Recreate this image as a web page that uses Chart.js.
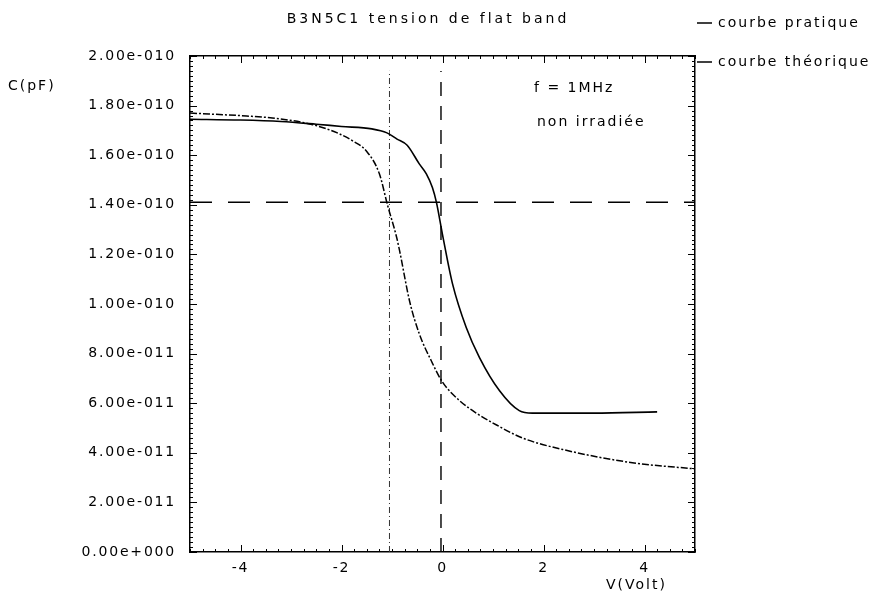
<!DOCTYPE html>
<html>
<head>
<meta charset="utf-8">
<script src="https://cdn.jsdelivr.net/npm/chart.js@4.4.0/dist/chart.umd.min.js"></script>
<style>
    html, body { margin: 0; padding: 0; background: #fff; }
    #wrap { width: 880px; height: 593px; }
</style>
</head>
<body>
<div id="wrap"><canvas id="cv" width="880" height="593"></canvas></div>
<script>
// Tension (V) et capacité (F)
const vPratique = [-5, -4, -3.2, -2.5, -2, -1.4, -1.1, -0.9, -0.7, -0.46, -0.32, -0.2, -0.12, 0, 0.2, 0.47, 0.73, 1.13, 1.52, 1.78, 3, 4.25];
const cPratique = [174.5e-12, 174.2e-12, 173.6e-12, 172.5e-12, 171.6e-12, 170.6e-12, 169e-12, 166.5e-12, 164e-12, 156.5e-12, 152.5e-12, 147e-12, 141e-12, 128e-12, 108e-12, 90.5e-12, 78.5e-12, 65e-12, 57e-12, 56e-12, 56e-12, 56.5e-12];

const vTheorique = [-5, -3.88, -3.37, -2.57, -2.04, -1.78, -1.5, -1.25, -1.09, -0.91, -0.85, -0.65, -0.46, -0.22, 0, 0.34, 0.67, 1.0, 1.58, 2.45, 3.76, 5];
const cTheorique = [177e-12, 175.8e-12, 175e-12, 172.3e-12, 168.6e-12, 165.8e-12, 161.5e-12, 152.5e-12, 140e-12, 127e-12, 121.5e-12, 101e-12, 88e-12, 77e-12, 68.5e-12, 61e-12, 56e-12, 52e-12, 46e-12, 41e-12, 36e-12, 33.5e-12];

// repères de tension de bandes plates
const flatBandC = 1.41e-10;
const vFlatTheo = -1.05;
const vFlatPrat = -0.03;
const vLineTop = 1.94e-10;

const xTickValues = [-4, -2, 0, 2, 4];
const yTickValues = [0, 2e-11, 4e-11, 6e-11, 8e-11, 1e-10, 1.2e-10, 1.4e-10, 1.6e-10, 1.8e-10, 2e-10];
const xRange = [-5, 5];
const yRange = [0, 2e-10];

const seriesLabels = ['courbe pratique', 'courbe théorique'];
const titleText = 'B3N5C1 tension de flat band';

const FONT = '"DejaVu Sans", sans-serif';
const INK = '#000';

// 1.40e-10 -> "1.40e-010"
function fmtExp(v) {
    const parts = v.toExponential(2).split('e');
    const n = parseInt(parts[1], 10);
    return parts[0] + 'e' + (n < 0 ? '-' : '+') + String(Math.abs(n)).padStart(3, '0');
}

function toPoints(xs, ys) {
    return xs.map((x, i) => ({ x: x, y: ys[i] }));
}

// Spacing like the old plotter font
const spacing = {
    id: 'spacing',
    beforeDraw(chart) {
        chart.ctx.letterSpacing = '1.8px';
    }
};

// Inward ticks on the four sides of the frame
const innerTicks = {
    id: 'innerTicks',
    afterDraw(chart) {
        const { ctx, chartArea: a, scales } = chart;
        ctx.save();
        ctx.strokeStyle = INK;
        ctx.lineWidth = 1;
        ctx.beginPath();
        for (let i = 0; i <= 40; i++) {
            const v = xRange[0] + i * 0.25;
            const px = Math.round(scales.x.getPixelForValue(v)) + 0.5;
            const len = xTickValues.includes(v) ? 7 : 3;
            ctx.moveTo(px, a.bottom); ctx.lineTo(px, a.bottom - len);
            ctx.moveTo(px, a.top); ctx.lineTo(px, a.top + len);
        }
        for (let i = 0; i <= 100; i++) {
            const v = yRange[1] * i / 100;
            const py = Math.round(scales.y.getPixelForValue(v)) + 0.5;
            const len = i % 10 === 0 ? 7 : 3;
            ctx.moveTo(a.left, py); ctx.lineTo(a.left + len, py);
            ctx.moveTo(a.right, py); ctx.lineTo(a.right - len, py);
        }
        ctx.stroke();
        ctx.restore();
    }
};

// Title, axis names, notes and legend
const annotations = {
    id: 'annotations',
    afterDraw(chart) {
        const ctx = chart.ctx;
        ctx.save();
        ctx.fillStyle = INK;
        ctx.strokeStyle = INK;
        ctx.textBaseline = 'middle';

        ctx.font = '14px ' + FONT;
        ctx.letterSpacing = '3px';
        ctx.textAlign = 'center';
        ctx.fillText(titleText, 428, 19);

        ctx.letterSpacing = '2px';
        ctx.textAlign = 'left';
        ctx.fillText('C(pF)', 8, 86);
        ctx.fillText('V(Volt)', 606, 585);
        ctx.fillText('f = 1MHz', 534, 88);
        ctx.fillText('non irradiée', 537, 122);

        ctx.lineWidth = 1.5;
        const rows = [23, 62];
        rows.forEach((y, i) => {
            ctx.beginPath();
            ctx.moveTo(697, y); ctx.lineTo(712, y);
            ctx.stroke();
            ctx.fillText(seriesLabels[i], 718, y);
        });
        ctx.restore();
    }
};

const ctx = document.getElementById('cv').getContext('2d');

new Chart(ctx, {
    type: 'line',
    data: {
        datasets: [
            {
                label: seriesLabels[0],
                data: toPoints(vPratique, cPratique),
                borderColor: INK,
                borderWidth: 1.6,
                pointRadius: 0,
                cubicInterpolationMode: 'monotone',
                fill: false
            },
            {
                label: seriesLabels[1],
                data: toPoints(vTheorique, cTheorique),
                borderColor: INK,
                borderWidth: 1.5,
                borderDash: [7, 2, 2, 2],
                pointRadius: 0,
                cubicInterpolationMode: 'monotone',
                fill: false
            },
            {
                label: 'flat band C',
                data: toPoints(xRange, [flatBandC, flatBandC]),
                borderColor: INK,
                borderWidth: 1.5,
                borderDash: [22, 16],
                pointRadius: 0
            },
            {
                label: 'Vfb pratique',
                data: toPoints([vFlatPrat, vFlatPrat], [0, vLineTop]),
                borderColor: INK,
                borderWidth: 1.4,
                borderDash: [14, 10],
                pointRadius: 0
            },
            {
                label: 'Vfb theorique',
                data: toPoints([vFlatTheo, vFlatTheo], [0, vLineTop]),
                borderColor: '#333',
                borderWidth: 1,
                borderDash: [6, 3, 1, 3],
                pointRadius: 0
            }
        ]
    },
    options: {
        responsive: false,
        devicePixelRatio: 1,
        animation: false,
        layout: {
            padding: { top: 56, right: 185, bottom: 0, left: 0 }
        },
        plugins: {
            legend: { display: false },
            title: { display: false },
            tooltip: { enabled: false }
        },
        scales: {
            x: {
                type: 'linear',
                position: 'bottom',
                min: xRange[0],
                max: xRange[1],
                afterBuildTicks: (scale) => { scale.ticks = xTickValues.map(v => ({ value: v })); },
                afterFit: (scale) => { scale.height = 41; },
                grid: { display: false, drawTicks: false },
                border: { display: true, color: INK, width: 1.5 },
                ticks: {
                    color: INK,
                    padding: 8,
                    maxRotation: 0,
                    font: { family: FONT, size: 14 },
                    callback: (v) => v < 0 ? '-' + Math.abs(v) : String(v)
                }
            },
            x2: {
                type: 'linear',
                position: 'top',
                min: xRange[0],
                max: xRange[1],
                afterFit: (scale) => { scale.height = 0; },
                grid: { display: false, drawTicks: false },
                border: { display: true, color: INK, width: 1.5 },
                ticks: { display: false }
            },
            y: {
                type: 'linear',
                position: 'left',
                min: yRange[0],
                max: yRange[1],
                afterBuildTicks: (scale) => { scale.ticks = yTickValues.map(v => ({ value: v })); },
                afterFit: (scale) => { scale.width = 190; },
                grid: { display: false, drawTicks: false },
                border: { display: true, color: INK, width: 1.5 },
                ticks: {
                    color: INK,
                    padding: 14,
                    font: { family: FONT, size: 14 },
                    callback: (v) => fmtExp(v)
                }
            },
            y2: {
                type: 'linear',
                position: 'right',
                min: yRange[0],
                max: yRange[1],
                afterFit: (scale) => { scale.width = 0; },
                grid: { display: false, drawTicks: false },
                border: { display: true, color: INK, width: 1.5 },
                ticks: { display: false }
            }
        }
    },
    plugins: [spacing, innerTicks, annotations]
});
</script>
</body>
</html>
